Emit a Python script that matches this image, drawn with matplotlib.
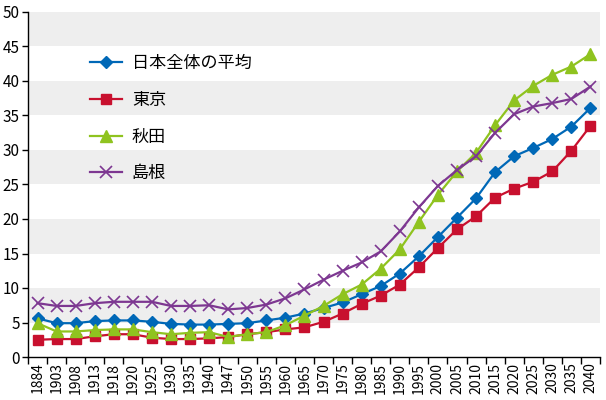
import matplotlib
matplotlib.use("Agg")
import matplotlib.pyplot as plt
import numpy as np

plt.rcParams['font.family'] = ['Noto Sans CJK JP', 'DejaVu Sans']

years = ['1884', '1903', '1908', '1913', '1918', '1920', '1925', '1930', '1935', '1940',
         '1947', '1950', '1955', '1960', '1965', '1970', '1975', '1980', '1985', '1990',
         '1995', '2000', '2005', '2010', '2015', '2020', '2025', '2030', '2035', '2040']

zenkoku = [5.6, 4.9, 4.9, 5.2, 5.3, 5.3, 5.1, 4.8, 4.7, 4.7,
           4.8, 4.9, 5.3, 5.7, 6.3, 7.1, 7.9, 9.1, 10.3, 12.1,
           14.6, 17.4, 20.2, 23.0, 26.8, 29.1, 30.3, 31.6, 33.4, 36.1]
tokyo = [2.5, 2.6, 2.6, 3.0, 3.3, 3.3, 2.8, 2.6, 2.6, 2.7,
         2.9, 3.3, 3.6, 4.0, 4.3, 5.1, 6.3, 7.7, 8.9, 10.5,
         13.0, 15.8, 18.5, 20.4, 23.1, 24.4, 25.4, 26.9, 29.9, 33.5]
akita = [4.9, 3.7, 3.7, 3.9, 4.0, 4.0, 3.6, 3.3, 3.5, 3.6,
         2.9, 3.3, 3.6, 4.6, 6.0, 7.4, 9.1, 10.5, 12.8, 15.6,
         19.6, 23.5, 26.9, 29.6, 33.6, 37.2, 39.3, 40.9, 42.1, 43.9]
shimane = [7.8, 7.4, 7.4, 7.8, 8.0, 8.0, 8.0, 7.4, 7.4, 7.5,
           6.9, 7.1, 7.6, 8.5, 9.8, 11.2, 12.5, 13.7, 15.3, 18.2,
           21.7, 24.8, 27.1, 29.1, 32.5, 35.2, 36.3, 36.8, 37.4, 39.2]

fig = plt.figure(figsize=(6.06, 4.0), dpi=100)
ax = fig.add_axes([28/606, 43/400, 572/606, 345/400])

x = np.arange(len(years))

# gray bands
for lo in range(5, 50, 10):
    ax.axhspan(lo, lo + 5, color='#eeeeee', zorder=0, lw=0)

ax.plot(x, zenkoku, color='#0068b7', marker='D', markersize=6.5, lw=1.6, label='日本全体の平均', zorder=3)
ax.plot(x, tokyo, color='#c8102e', marker='s', markersize=7.5, lw=1.6, label='東京', zorder=3)
ax.plot(x, akita, color='#8fc31f', marker='^', markersize=8.5, lw=1.6, label='秋田', zorder=3)
ax.plot(x, shimane, color='#7d3791', marker='x', markersize=8, mew=1.2, lw=1.6, label='島根', zorder=3)

ax.set_xlim(-0.5, len(years) - 0.5)
ax.set_ylim(0, 50)
ax.set_yticks(range(0, 51, 5))
ax.set_xticks(x)
ax.set_xticklabels(years, rotation=90, fontsize=10)
ax.set_xticks(np.arange(-0.5, len(years)), minor=True)
ax.tick_params(axis='x', which='major', length=0, pad=4)
ax.tick_params(axis='x', which='minor', length=5, width=1)
ax.tick_params(axis='y', length=4, width=1, labelsize=11, pad=2)

for s in ['top', 'right']:
    ax.spines[s].set_visible(False)
ax.spines['left'].set_linewidth(1)
ax.spines['bottom'].set_linewidth(1)

leg = ax.legend(loc='upper left', bbox_to_anchor=(90/606, 1 - 54/400),
                bbox_transform=fig.transFigure, frameon=False,
                borderaxespad=0, borderpad=0,
                fontsize=12.3, labelspacing=1.1, handlelength=1.9, handletextpad=0.55)

fig.savefig('out.png', dpi=100)
